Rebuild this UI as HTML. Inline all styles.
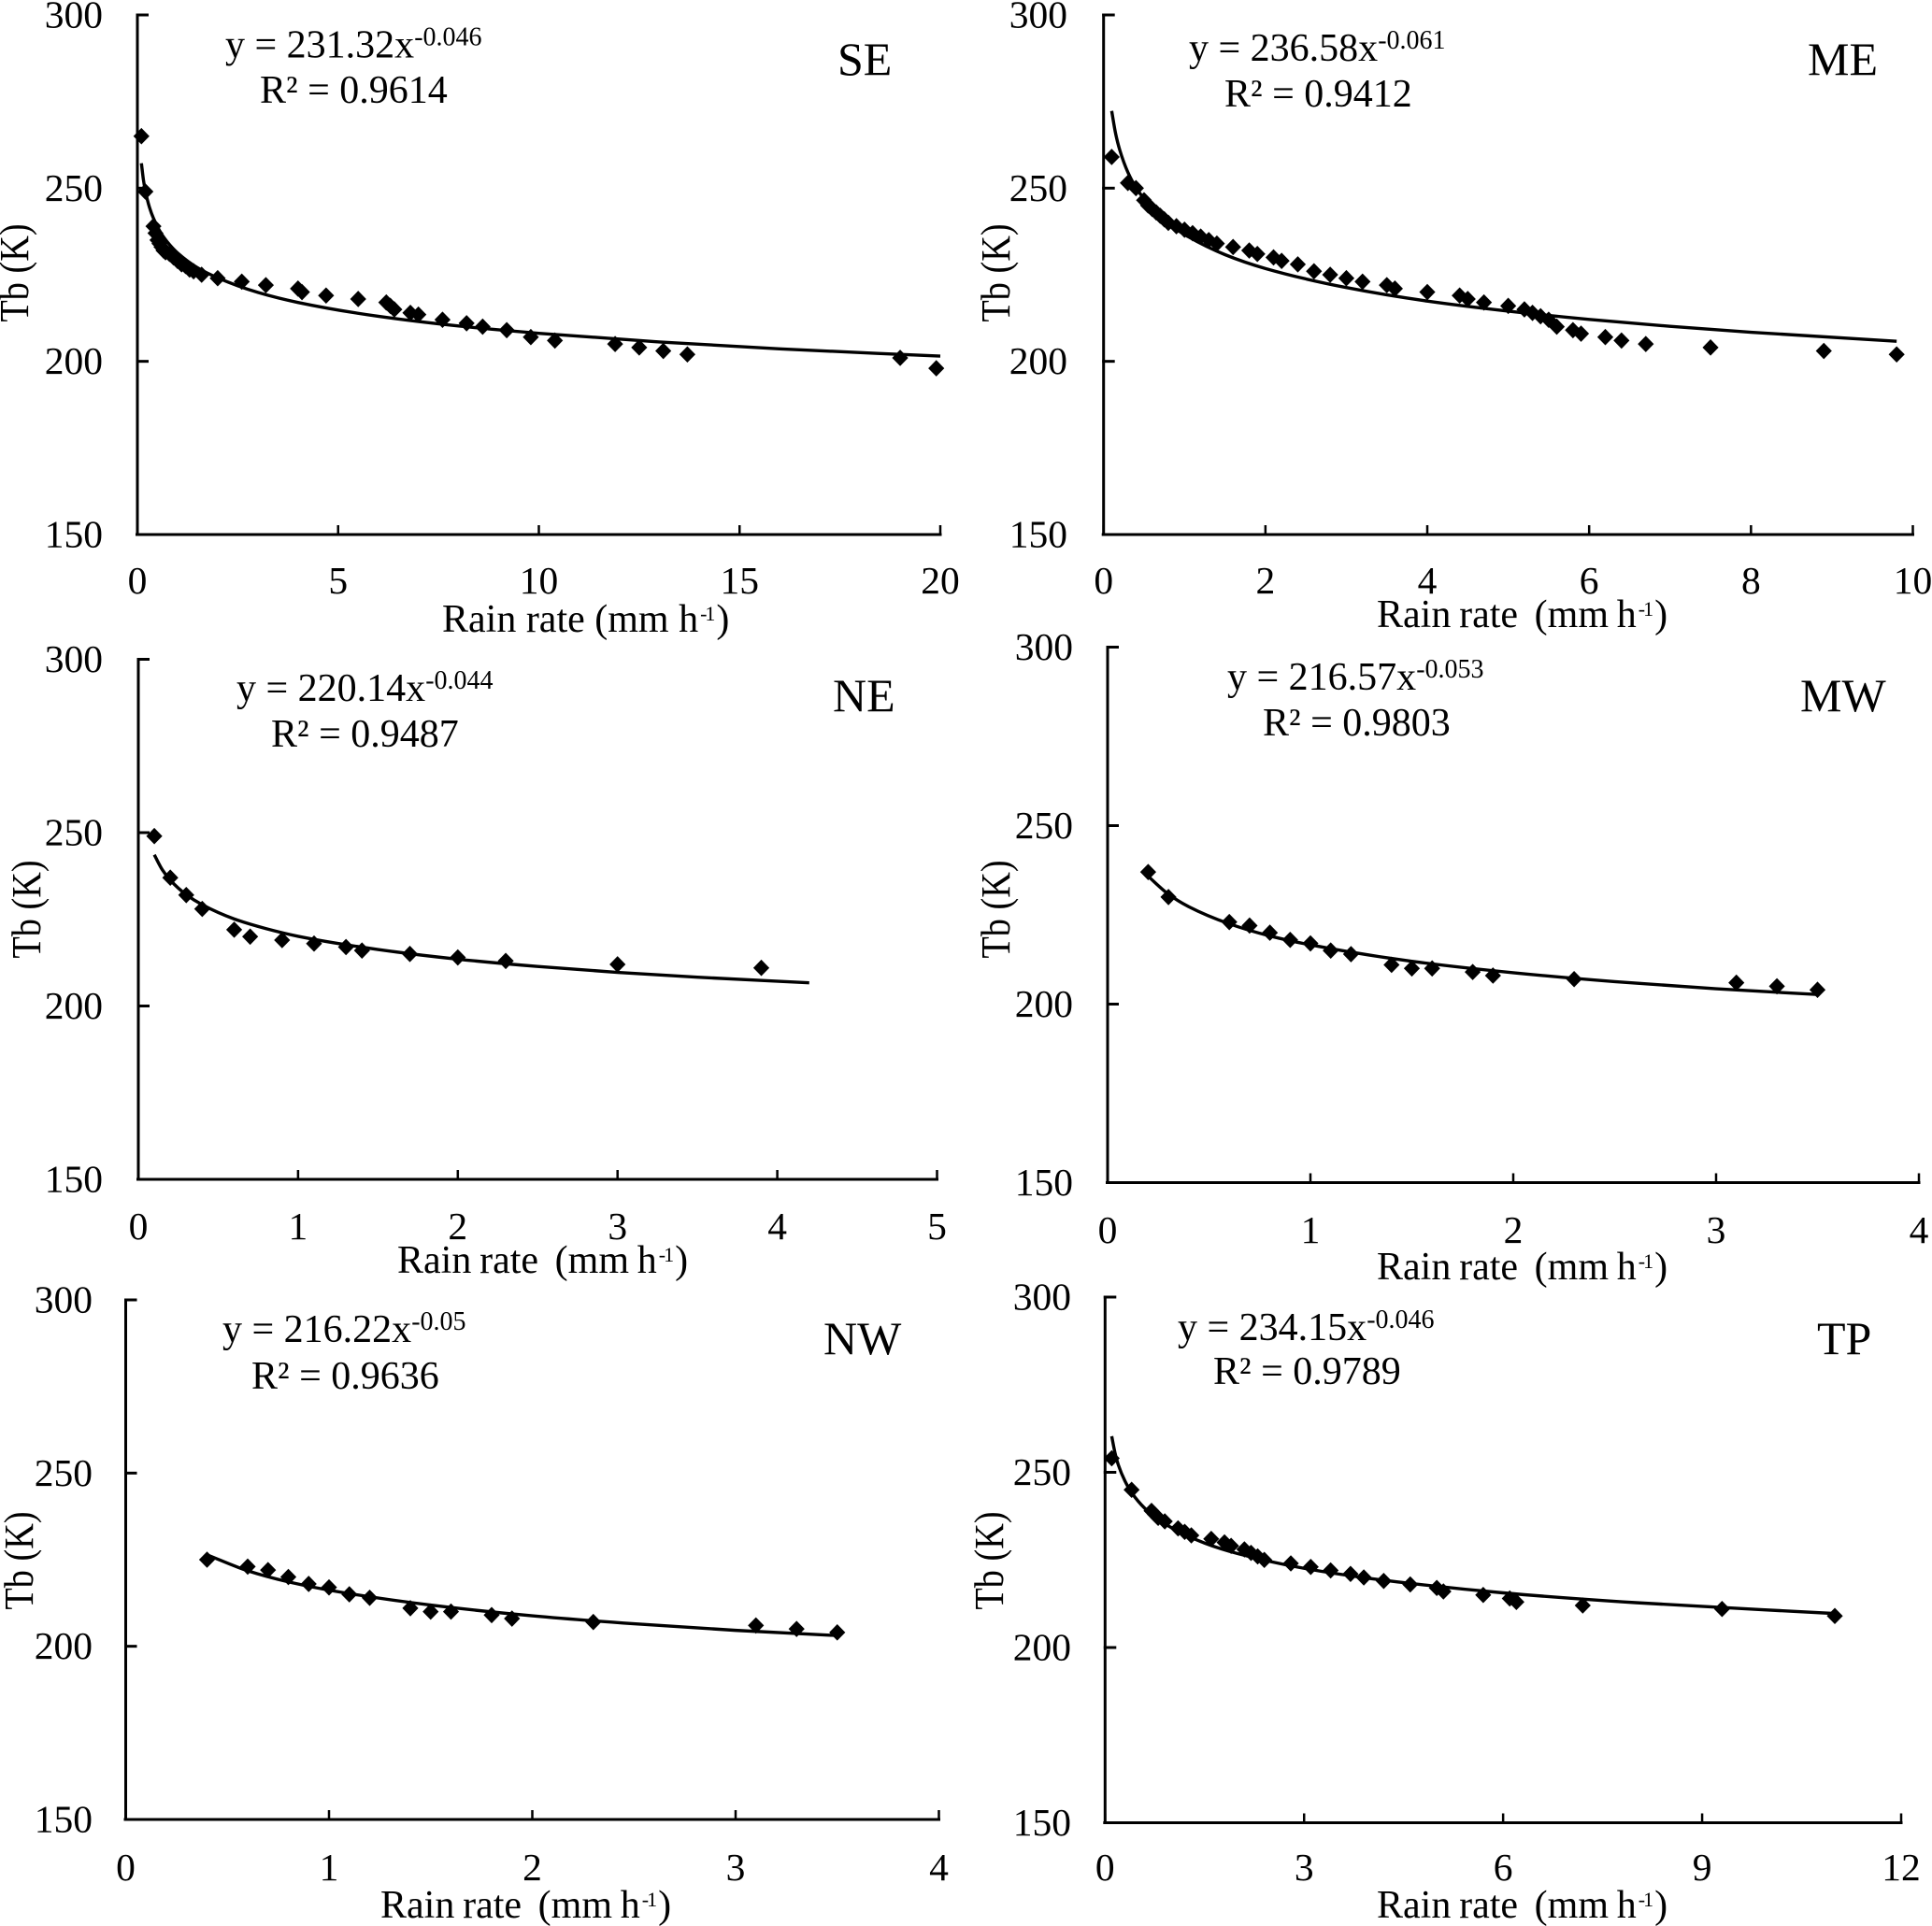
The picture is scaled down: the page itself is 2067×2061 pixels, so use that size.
<!DOCTYPE html>
<html lang="en">
<head>
<meta charset="utf-8">
<title>Tb versus rain rate by region</title>
<style>
html,body{margin:0;padding:0;background:#fff;}
svg{display:block;}
text{font-family:"Liberation Serif","Times New Roman",serif;fill:#000;}
.eq{font-size:42px;}
.sup{font-size:28px;}
.region{font-size:50px;}
.xt{font-size:42px;}
.xt2{word-spacing:-1.7px;}
.xsup{font-size:22px;letter-spacing:-2px;}
.yt{font-size:44px;}
.tick{font-size:41.5px;}
</style>
</head>
<body>
<svg id="chart" xmlns="http://www.w3.org/2000/svg" width="2067" height="2061" viewBox="0 0 2067 2061">
<rect width="2067" height="2061" fill="#fff"/>

<g id="panel-se">
<text class="eq" x="241" y="61.5">y = 231.32x<tspan class="sup" dy="-13">-0.046</tspan></text>
<text class="eq" x="278" y="110">R² = 0.9614</text>
<text class="region" x="896" y="80">SE</text>
<text class="xt" x="473" y="676">Rain rate (mm h<tspan class="xsup" dx="2" dy="-12">-1</tspan><tspan dx="3" dy="12">)</tspan></text>
<text class="yt" transform="translate(30,292) rotate(-90) scale(0.87,1)" text-anchor="middle">Tb (K)</text>
</g>

<g id="panel-me">
<text class="eq" x="1272" y="65">y = 236.58x<tspan class="sup" dy="-13">-0.061</tspan></text>
<text class="eq" x="1310" y="114">R² = 0.9412</text>
<text class="region" x="1934" y="80">ME</text>
<text class="xt xt2" x="1473" y="671" xml:space="preserve">Rain rate  (mm h<tspan class="xsup" dx="2" dy="-12">-1</tspan><tspan dx="3" dy="12">)</tspan></text>
<text class="yt" transform="translate(1080,292) rotate(-90) scale(0.87,1)" text-anchor="middle">Tb (K)</text>
</g>

<g id="panel-ne">
<text class="eq" x="253" y="750">y = 220.14x<tspan class="sup" dy="-13">-0.044</tspan></text>
<text class="eq" x="290" y="799">R² = 0.9487</text>
<text class="region" x="891" y="761">NE</text>
<text class="xt xt2" x="425" y="1362" xml:space="preserve">Rain rate  (mm h<tspan class="xsup" dx="2" dy="-12">-1</tspan><tspan dx="3" dy="12">)</tspan></text>
<text class="yt" transform="translate(43,973) rotate(-90) scale(0.87,1)" text-anchor="middle">Tb (K)</text>
</g>

<g id="panel-mw">
<text class="eq" x="1313" y="738">y = 216.57x<tspan class="sup" dy="-13">-0.053</tspan></text>
<text class="eq" x="1351" y="787">R² = 0.9803</text>
<text class="region" x="1926" y="761">MW</text>
<text class="xt xt2" x="1473" y="1369" xml:space="preserve">Rain rate  (mm h<tspan class="xsup" dx="2" dy="-12">-1</tspan><tspan dx="3" dy="12">)</tspan></text>
<text class="yt" transform="translate(1080,973) rotate(-90) scale(0.87,1)" text-anchor="middle">Tb (K)</text>
</g>

<g id="panel-nw">
<text class="eq" x="238" y="1436">y = 216.22x<tspan class="sup" dy="-13">-0.05</tspan></text>
<text class="eq" x="269" y="1486">R² = 0.9636</text>
<text class="region" x="881" y="1449">NW</text>
<text class="xt xt2" x="407" y="2052" xml:space="preserve">Rain rate  (mm h<tspan class="xsup" dx="2" dy="-12">-1</tspan><tspan dx="3" dy="12">)</tspan></text>
<text class="yt" transform="translate(35,1670) rotate(-90) scale(0.87,1)" text-anchor="middle">Tb (K)</text>
</g>

<g id="panel-tp">
<text class="eq" x="1260" y="1434">y = 234.15x<tspan class="sup" dy="-13">-0.046</tspan></text>
<text class="eq" x="1298" y="1481">R² = 0.9789</text>
<text class="region" x="1944" y="1449">TP</text>
<text class="xt xt2" x="1473" y="2052" xml:space="preserve">Rain rate  (mm h<tspan class="xsup" dx="2" dy="-12">-1</tspan><tspan dx="3" dy="12">)</tspan></text>
<text class="yt" transform="translate(1073,1670) rotate(-90) scale(0.87,1)" text-anchor="middle">Tb (K)</text>
</g>
</svg>

<script>
// Shared Y axis values
var yTicks = [150, 200, 250, 300];

// SE
var seXTicks = [0, 5, 10, 15, 20];
var seRain = [0.1,0.2,0.4,0.45,0.5,0.55,0.6,0.65,0.7,0.8,0.9,1.0,1.1,1.2,1.3,1.4,1.6,2,2.6,3.2,4,4.1,4.7,5.5,6.2,6.3,6.4,6.8,7,7.6,8.2,8.6,9.2,9.8,10.4,11.9,12.5,13.1,13.7,19,19.9];
var seTb = [265,249,239,237,235,234,233,232,231.5,231,230,229,228,227.5,226.5,226,225,224,223,222,221,220,219,218,217,216,215,214,213.5,212,211,210,209,207,206,205,204,203,202,201,198];
var seFitRain = [0.1,0.15,0.2,0.3,0.4,0.6,0.8,1,1.5,2,3,4,6,8,10,13,16,20];
var seFitTb = [257.2,252.4,249.1,244.5,241.3,236.8,233.7,231.3,227.0,224.1,219.9,217.0,213.0,210.2,208.1,205.6,203.6,201.5];

// ME
var meXTicks = [0, 2, 4, 6, 8, 10];
var meRain = [0.1,0.3,0.4,0.5,0.55,0.6,0.65,0.7,0.75,0.8,0.9,1,1.1,1.2,1.3,1.4,1.6,1.8,1.9,2.1,2.2,2.4,2.6,2.8,3,3.2,3.5,3.6,4,4.4,4.5,4.7,5,5.2,5.3,5.4,5.5,5.6,5.8,5.9,6.2,6.4,6.7,7.5,8.9,9.8];
var meTb = [259,251.5,250,246.5,245,244,243,242,241,240,239,238,237,236,235,234,233,232,231,230,229,228,226,225,224,223,222,221,220,219,218,217,216,215,214,213,212,210,209,208,207,206,205,204,203,202];
var meFitRain = [0.1,0.15,0.2,0.3,0.4,0.6,0.8,1,1.5,2,3,4,5,6,7,8,9.8];
var meFitTb = [272.3,265.6,261.0,254.6,250.2,244.1,239.8,236.6,230.8,226.8,221.3,217.4,214.5,212.1,210.1,208.4,205.8];

// NE
var neXTicks = [0, 1, 2, 3, 4, 5];
var neRain = [0.1,0.2,0.3,0.4,0.6,0.7,0.9,1.1,1.3,1.4,1.7,2,2.3,3,3.9];
var neTb = [249,237,232,228,222,220,219,218,217,216,215,214,213,212,211];
var neFitRain = [0.1,0.15,0.2,0.3,0.4,0.6,0.8,1,1.5,2,2.5,3,3.5,4.2];
var neFitTb = [243.6,239.3,236.3,232.1,229.2,225.1,222.3,220.1,216.3,213.5,211.4,209.7,208.3,206.7];

// MW
var mwXTicks = [0, 1, 2, 3, 4];
var mwRain = [0.2,0.3,0.6,0.7,0.8,0.9,1,1.1,1.2,1.4,1.5,1.6,1.8,1.9,2.3,3.1,3.3,3.5];
var mwTb = [237,230,223,222,220,218,217,215,214,211,210,210,209,208,207,206,205,204];
var mwFitRain = [0.2,0.3,0.4,0.6,0.8,1,1.5,2,2.5,3,3.5];
var mwFitTb = [235.8,230.8,227.3,222.5,219.1,216.6,212.0,208.8,206.3,204.3,202.7];

// NW
var nwXTicks = [0, 1, 2, 3, 4];
var nwRain = [0.4,0.6,0.7,0.8,0.9,1,1.1,1.2,1.4,1.5,1.6,1.8,1.9,2.3,3.1,3.3,3.5];
var nwTb = [225,223,222,220,218,217,215,214,211,210,210,209,208,207,206,205,204];
var nwFitRain = [0.4,0.6,0.8,1,1.5,2,2.5,3,3.5];
var nwFitTb = [226.4,221.8,218.6,216.2,211.9,208.8,206.5,204.6,203.1];

// TP
var tpXTicks = [0, 3, 6, 9, 12];
var tpRain = [0.1,0.4,0.7,0.75,0.8,0.9,1.1,1.2,1.3,1.6,1.8,1.9,2.1,2.2,2.3,2.4,2.8,3.1,3.4,3.7,3.9,4.2,4.6,5,5.1,5.7,6.1,6.2,7.2,9.3,11];
var tpTb = [254,245,239,238,237,236,234,233,232,231,230,229,228,227,226,225,224,223,222,221,220,219,218,217,216,215,214,213,212,211,209];
var tpFitRain = [0.1,0.15,0.2,0.3,0.4,0.6,0.8,1,1.5,2,3,4,6,8,11];
var tpFitTb = [260.3,255.5,252.1,247.5,244.2,239.7,236.6,234.2,229.8,226.8,222.6,219.7,215.6,212.8,209.7];

var NS = 'http://www.w3.org/2000/svg';

function el(tag, parent, attrs) {
  var node = document.createElementNS(NS, tag);
  for (var k in attrs) { node.setAttribute(k, attrs[k]); }
  parent.appendChild(node);
  return node;
}

function smoothPath(pts) {
  var n = pts.length;
  var sec = [];
  for (var i = 0; i < n - 1; i++) {
    sec.push((pts[i + 1][1] - pts[i][1]) / (pts[i + 1][0] - pts[i][0]));
  }
  var m = [sec[0]];
  for (var j = 1; j < n - 1; j++) {
    var h0 = pts[j][0] - pts[j - 1][0], h1 = pts[j + 1][0] - pts[j][0];
    var w0 = 2 * h1 + h0, w1 = h1 + 2 * h0;
    m.push((w0 + w1) / (w0 / sec[j - 1] + w1 / sec[j]));
  }
  m.push(sec[n - 2]);
  var d = 'M' + pts[0][0].toFixed(2) + ' ' + pts[0][1].toFixed(2);
  for (var s = 0; s < n - 1; s++) {
    var h = (pts[s + 1][0] - pts[s][0]) / 3;
    d += 'C' + (pts[s][0] + h).toFixed(2) + ' ' + (pts[s][1] + m[s] * h).toFixed(2) + ' ' +
         (pts[s + 1][0] - h).toFixed(2) + ' ' + (pts[s + 1][1] - m[s + 1] * h).toFixed(2) + ' ' +
         pts[s + 1][0].toFixed(2) + ' ' + pts[s + 1][1].toFixed(2);
  }
  return d;
}

function drawPanel(id, frame, xTicks, rain, tb, fitRain, fitTb) {
  var g = document.getElementById('panel-' + id);
  var xMax = xTicks[xTicks.length - 1];
  var yMin = yTicks[0];
  var yMax = yTicks[yTicks.length - 1];
  function sx(v) { return frame.x0 + (v / xMax) * (frame.x1 - frame.x0); }
  function sy(v) { return frame.yBottom + ((v - yMin) / (yMax - yMin)) * (frame.yTop - frame.yBottom); }

  var yAxis = el('line', g, {x1: frame.x0, x2: frame.x0, y1: frame.yTop - 1.5, y2: frame.yBottom, stroke: '#000', 'stroke-width': 3});
  
  

  var xAxis = el('line', g, {x1: frame.x0 - 2, x2: frame.x1 + 1.5, y1: frame.yBottom, y2: frame.yBottom, stroke: '#000', 'stroke-width': 3});
  
  

  yTicks.forEach(function (v) {
    var mark = el('line', g, {x1: frame.x0 - 1.5, x2: frame.x0 + 12, y1: sy(v), y2: sy(v), stroke: '#000', 'stroke-width': 3});
    
    
    var label = el('text', g, {'class': 'tick', x: frame.yLabelX, y: sy(v) + 13.5, 'text-anchor': 'end'});
    
    
    label.textContent = String(v);
  });

  xTicks.forEach(function (v) {
    var mark = el('line', g, {x1: sx(v), x2: sx(v), y1: frame.yBottom, y2: frame.yBottom - 10, stroke: '#000', 'stroke-width': 2.5});
    
    
    var label = el('text', g, {'class': 'tick', x: sx(v), y: frame.xLabelY, 'text-anchor': 'middle'});
    
    
    label.textContent = String(v);
  });

  var pts = fitRain.map(function (v, i) { return [sx(v), sy(fitTb[i])]; });
  var fit = el('path', g, {d: smoothPath(pts), fill: 'none', stroke: '#000', 'stroke-width': 3.4});
  
  

  rain.forEach(function (v, i) {
    var cx = sx(v), cy = sy(tb[i]);
    var pd = 'M' + cx + ' ' + (cy - 8.8) + 'L' + (cx + 8.6) + ' ' + cy + 'L' + cx + ' ' + (cy + 8.8) + 'L' + (cx - 8.6) + ' ' + cy + 'Z';
    var point = el('path', g, {d: pd, fill: '#000'});
    
    
  });
}

drawPanel('se', {x0: 147, x1: 1006, yTop: 16, yBottom: 572, yLabelX: 110, xLabelY: 635}, seXTicks, seRain, seTb, seFitRain, seFitTb);
drawPanel('me', {x0: 1180.7, x1: 2046.5, yTop: 16, yBottom: 572, yLabelX: 1142, xLabelY: 635}, meXTicks, meRain, meTb, meFitRain, meFitTb);
drawPanel('ne', {x0: 148, x1: 1002.5, yTop: 705.5, yBottom: 1262, yLabelX: 110, xLabelY: 1326}, neXTicks, neRain, neTb, neFitRain, neFitTb);
drawPanel('mw', {x0: 1185, x1: 2053, yTop: 692.5, yBottom: 1265.5, yLabelX: 1148, xLabelY: 1330}, mwXTicks, mwRain, mwTb, mwFitRain, mwFitTb);
drawPanel('nw', {x0: 134.5, x1: 1004.5, yTop: 1391, yBottom: 1947, yLabelX: 99, xLabelY: 2012}, nwXTicks, nwRain, nwTb, nwFitRain, nwFitTb);
drawPanel('tp', {x0: 1182.3, x1: 2034, yTop: 1388, yBottom: 1950.5, yLabelX: 1146, xLabelY: 2012}, tpXTicks, tpRain, tpTb, tpFitRain, tpFitTb);
</script>
</body>
</html>
